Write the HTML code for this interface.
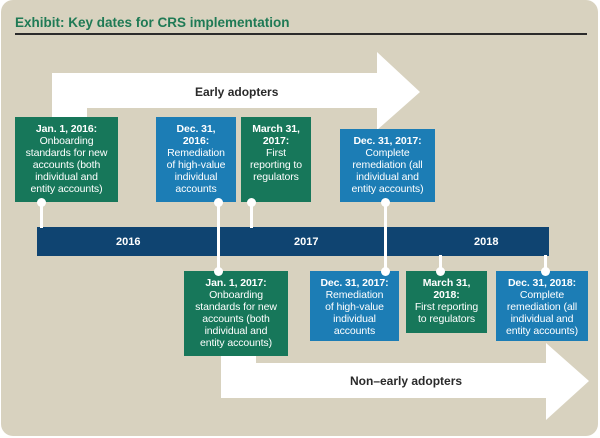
<!DOCTYPE html>
<html><head><style>
body{margin:0;background:#fff;width:600px;height:438px;overflow:hidden;position:relative;font-family:"Liberation Sans",sans-serif}
.bg{position:absolute;left:1px;top:0;width:597px;height:436px;background:#d8d2bf;border-radius:12px}
.t{position:absolute;left:15px;top:15px;font-size:13.5px;font-weight:bold;color:#1f7a55}
.rule{position:absolute;left:15px;top:33px;width:572px;height:2px;background:#2b2b2b}
.b{position:absolute;color:#fff;text-align:center;font-size:10.5px;line-height:12px;box-sizing:border-box;padding-top:6px;letter-spacing:-0.1px}
.b b{font-weight:bold}
.g{background:#17775a}.u{background:#1c7db5}
.bar{position:absolute;left:37px;top:227px;width:512px;height:29px;background:#0f4471}
.y{position:absolute;top:236px;color:#fff;font-weight:bold;font-size:11px}
.l{position:absolute;width:3px;background:#fff}
.d{position:absolute;width:9px;height:9px;border-radius:50%;background:#fff}
.lab{position:absolute;font-weight:bold;font-size:12px;color:#2a2a2a}
</style></head><body>
<div class="bg"></div>
<div class="t">Exhibit: Key dates for CRS implementation</div>
<div class="rule"></div>
<svg width="600" height="438" style="position:absolute;left:0;top:0">
<polygon points="52,73 377,73 377,52 420,92 377,130 377,108 87,108 87,117 52,117" fill="#fff"/>
<polygon points="221,356 221,398 546,398 546,420 589,381 546,343 546,363 256,363 256,356" fill="#fff"/>
</svg>
<div class="lab" style="left:195px;top:85px">Early adopters</div>
<div class="lab" style="left:350px;top:374px">Non–early adopters</div>
<div class="bar"></div>
<div class="y" style="left:116px">2016</div>
<div class="y" style="left:294px">2017</div>
<div class="y" style="left:474px">2018</div>
<div class="l" style="left:40px;top:202px;height:26px"></div>
<div class="l" style="left:217px;top:202px;height:70px"></div>
<div class="l" style="left:250px;top:202px;height:26px"></div>
<div class="l" style="left:384px;top:202px;height:70px"></div>
<div class="l" style="left:439px;top:255px;height:17px"></div>
<div class="l" style="left:544px;top:255px;height:17px"></div>
<div class="b g" style="left:15px;top:117px;width:103px;height:85px"><b>Jan. 1, 2016:</b><br>Onboarding<br>standards for new<br>accounts (both<br>individual and<br>entity accounts)</div>
<div class="b u" style="left:156px;top:117px;width:80px;height:85px"><b>Dec. 31,<br>2016:</b><br>Remediation<br>of high-value<br>individual<br>accounts</div>
<div class="b g" style="left:241px;top:117px;width:70px;height:85px"><b>March 31,<br>2017:</b><br>First<br>reporting to<br>regulators</div>
<div class="b u" style="left:340px;top:129px;width:95px;height:73px"><b>Dec. 31, 2017:</b><br>Complete<br>remediation (all<br>individual and<br>entity accounts)</div>
<div class="b g" style="left:184px;top:271px;width:104px;height:85px"><b>Jan. 1, 2017:</b><br>Onboarding<br>standards for new<br>accounts (both<br>individual and<br>entity accounts)</div>
<div class="b u" style="left:310px;top:271px;width:89px;height:70px"><b>Dec. 31, 2017:</b><br>Remediation<br>of high-value<br>individual<br>accounts</div>
<div class="b g" style="left:406px;top:271px;width:81px;height:62px"><b>March 31,<br>2018:</b><br>First reporting<br>to regulators</div>
<div class="b u" style="left:496px;top:271px;width:92px;height:70px"><b>Dec. 31, 2018:</b><br>Complete<br>remediation (all<br>individual and<br>entity accounts)</div>
<div class="d" style="left:37px;top:198px"></div>
<div class="d" style="left:214px;top:198px"></div>
<div class="d" style="left:247px;top:198px"></div>
<div class="d" style="left:381px;top:198px"></div>
<div class="d" style="left:214px;top:267px"></div>
<div class="d" style="left:381px;top:267px"></div>
<div class="d" style="left:436px;top:267px"></div>
<div class="d" style="left:541px;top:267px"></div>
</body></html>
